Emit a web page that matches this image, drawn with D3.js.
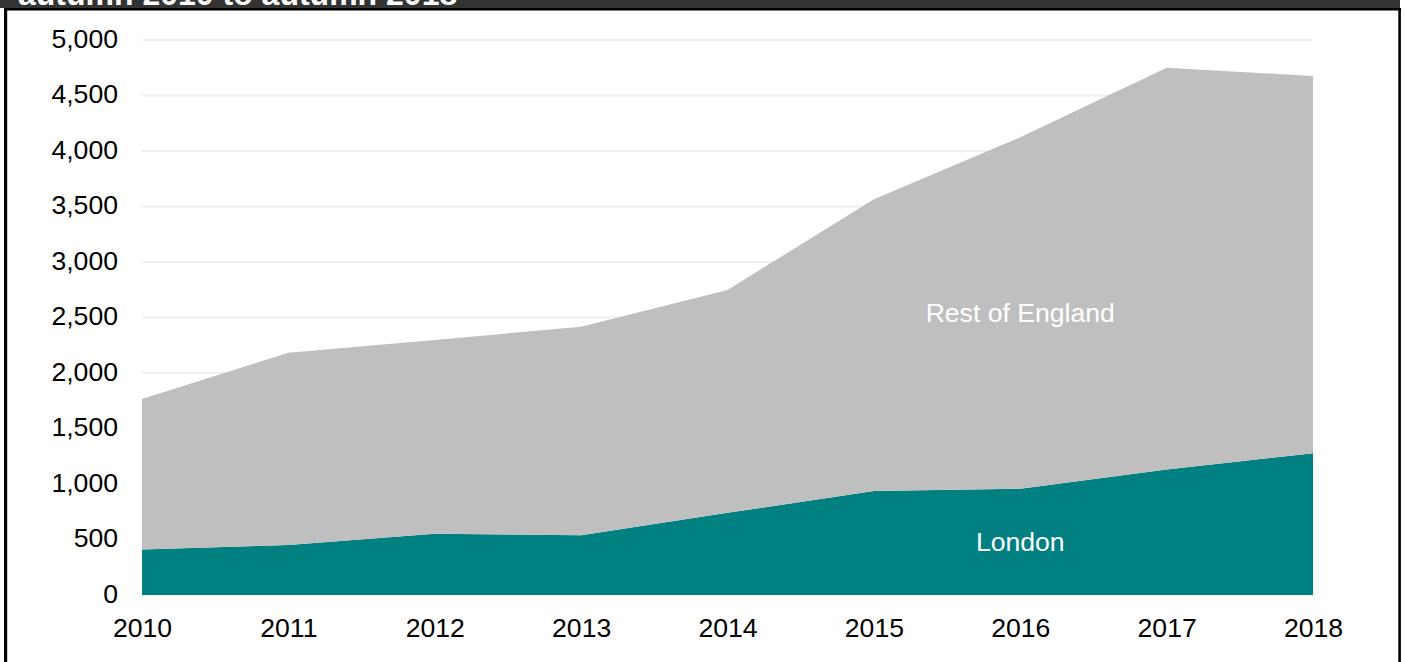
<!DOCTYPE html>
<html>
<head>
<meta charset="utf-8">
<script src="https://cdn.jsdelivr.net/npm/d3@7"></script>
<style>
  html, body { margin: 0; padding: 0; background: #ffffff; }
  svg { display: block; }
  text { font-family: "Liberation Sans", Arial, Helvetica, sans-serif; }
</style>
</head>
<body>
<svg id="chart" width="1405" height="662"></svg>
<script>
// ---- data ----
const titleText = "autumn 2010 to autumn 2018";
const years = [2010, 2011, 2012, 2013, 2014, 2015, 2016, 2017, 2018];
const london = [411, 450, 552, 538, 740, 937, 958, 1130, 1277];
const restOfEngland = [1355, 1733, 1745, 1879, 2008, 2628, 3165, 3621, 3399];
const seriesNames = ["London", "Rest of England"];
const yTicks = [0, 500, 1000, 1500, 2000, 2500, 3000, 3500, 4000, 4500, 5000];
const labelAnchors = [
  { name: "London", year: 2016, value: 477 },
  { name: "Rest of England", year: 2016, value: 2540 }
];

// ---- build table ----
const table = years.map((y, i) => ({ year: y, "London": london[i], "Rest of England": restOfEngland[i] }));

const svg = d3.select("#chart");
const W = 1405, H = 662;
const colors = { "London": "#008080", "Rest of England": "#bfbfbf" };
const FS = 26.6;

// frame / header
svg.append("rect").attr("x", 0).attr("y", 0).attr("width", 1400).attr("height", 8).attr("fill", "#333333");
svg.append("text")
  .attr("x", 18).attr("y", 4.5)
  .attr("fill", "#ffffff")
  .attr("font-weight", "bold")
  .attr("font-size", 32)
  .text(titleText);
svg.append("rect").attr("x", 4).attr("y", 8).attr("width", 1397).attr("height", 2.5).attr("fill", "#000000");
svg.append("rect").attr("x", 4).attr("y", 8).attr("width", 3.2).attr("height", H).attr("fill", "#000000");
svg.append("rect").attr("x", 1398.3).attr("y", 8).attr("width", 2.6).attr("height", H).attr("fill", "#000000");

// scales
const x = d3.scaleLinear().domain([2010, 2018]).range([142, 1313]);
const y = d3.scaleLinear().domain([0, 5000]).range([595, 40]);

// gridlines
svg.append("g")
  .selectAll("line")
  .data(yTicks)
  .join("line")
  .attr("x1", x(2010)).attr("x2", x(2018))
  .attr("y1", d => y(d)).attr("y2", d => y(d))
  .attr("stroke", "#efefef")
  .attr("stroke-width", 2);

// stacked areas
const stack = d3.stack().keys(seriesNames);
const stacked = stack(table);
const area = d3.area()
  .x(d => x(d.data.year))
  .y0(d => y(d[0]))
  .y1(d => y(d[1]));

svg.append("g")
  .selectAll("path")
  .data(stacked)
  .join("path")
  .attr("d", area)
  .attr("fill", d => colors[d.key]);

// axes
const yAxis = d3.axisLeft(y)
  .tickValues(yTicks)
  .tickFormat(d3.format(","))
  .tickSize(0)
  .tickPadding(24);
const gy = svg.append("g").attr("transform", `translate(${x(2010)},0)`).call(yAxis);
gy.select(".domain").remove();
gy.selectAll("text")
  .attr("font-size", FS)
  .attr("fill", "#000000")
  .attr("dy", "0.27em")
  .style("font-family", "'Liberation Sans', Arial, sans-serif");

const xAxis = d3.axisBottom(x)
  .tickValues(years)
  .tickFormat(d3.format("d"))
  .tickSize(0)
  .tickPadding(23);
const gx = svg.append("g").attr("transform", `translate(0,${y(0)})`).call(xAxis);
gx.select(".domain").remove();
gx.selectAll("text")
  .attr("font-size", FS)
  .attr("fill", "#000000")
  .style("font-family", "'Liberation Sans', Arial, sans-serif");

// series labels
svg.append("g")
  .selectAll("text")
  .data(labelAnchors)
  .join("text")
  .attr("x", d => x(d.year))
  .attr("y", d => y(d.value))
  .attr("dy", "0.35em")
  .attr("text-anchor", "middle")
  .attr("font-size", FS)
  .attr("fill", "#ffffff")
  .text(d => d.name);
</script>
</body>
</html>
